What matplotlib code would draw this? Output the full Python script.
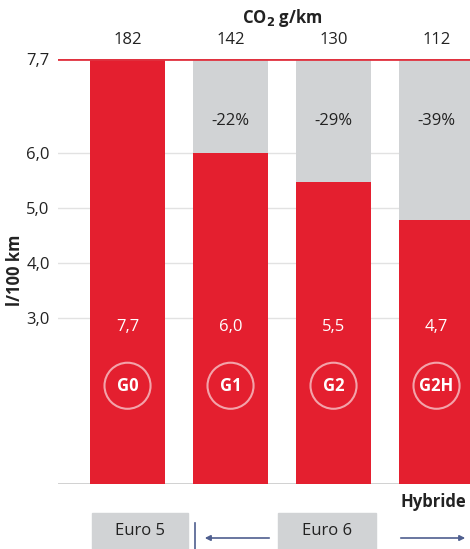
import matplotlib.pyplot as plt
from matplotlib.patches import Rectangle, FancyArrowPatch

plt.rcParams['font.family'] = ['Open Sans', 'DejaVu Sans']

# data
models = ['G0', 'G1', 'G2', 'G2H']
consumption = [7.7, 6.0, 5.47, 4.78]   # bar heights as drawn in the picture
value_labels = ['7,7', '6,0', '5,5', '4,7']
co2 = ['182', '142', '130', '112']
reduction = ['', '-22%', '-29%', '-39%']
yticks = [3.0, 4.0, 5.0, 6.0, 7.7]
ytick_labels = ['3,0', '4,0', '5,0', '6,0', '7,7']
top_value = 7.7

RED = '#e41f2f'
GREY = '#d1d3d5'
W, H = 470, 549

fig = plt.figure(figsize=(4.7, 5.49), dpi=100)
ax = fig.add_axes([58 / W, 1 - 484 / H, 1 - 58 / W, (484 - 59) / H])

x = list(range(len(models)))
bw = 0.728

for v in yticks[:-1]:
    ax.axhline(v, color='#e2e2e2', lw=1, zorder=0)
ax.axhline(0, color='#c9c9c9', lw=1.2, zorder=0)

ax.bar(x, [top_value] * len(x), width=bw, color=GREY, zorder=1)
ax.bar(x, consumption, width=bw, color=RED, zorder=2)
ax.axhline(top_value, color='#e0323f', lw=2, zorder=3)

for i in x:
    ax.text(i, 8.04, co2[i], ha='center', va='center', fontsize=12, color='#222222', clip_on=False)
    ax.text(i, 2.85, value_labels[i], ha='center', va='center', fontsize=12, color='white', zorder=4)
    ax.text(i, 1.78, models[i], ha='center', va='center', fontsize=12, color='white',
            fontweight='bold', zorder=5)
    if reduction[i]:
        ax.text(i, 6.58, reduction[i], ha='center', va='center', fontsize=12, color='#222222', zorder=4)
ax.scatter(x, [1.78] * len(x), s=1100, facecolors='none', edgecolors='#f3a3aa', linewidths=1.5, zorder=4)

ax.text(1.5, 8.44, 'CO$_\\mathbf{2}$ g/km', ha='center', va='center', fontsize=12,
        fontweight='bold', color='#222222', clip_on=False)

ax.set_xlim(-0.675, 3.325)
ax.set_ylim(0, top_value)
ax.set_yticks(yticks)
ax.set_yticklabels(ytick_labels, fontsize=12, color='#222222')
ax.tick_params(axis='y', length=0, pad=6)
ax.set_xticks([])
for s in ax.spines.values():
    s.set_visible(False)

fig.text(15 / W, 1 - 270 / H, 'l/100 km', rotation=90, ha='center', va='center',
         fontsize=12, fontweight='bold', color='#222222')

# bottom legend
fig.text(433 / W, 1 - 502 / H, 'Hybride', ha='center', va='center', fontsize=12,
         fontweight='bold', color='#222222')
for x0, x1, label in [(92, 188, 'Euro 5'), (278, 376, 'Euro 6')]:
    fig.patches.append(Rectangle((x0 / W, 0), (x1 - x0) / W, (549 - 513) / H,
                                 transform=fig.transFigure, color=GREY))
    fig.text((x0 + x1) / 2 / W, 1 - 531 / H, label, ha='center', va='center',
             fontsize=12, color='#222222')
arrow_c = '#4f5f8f'
fig.lines.append(plt.Line2D([195 / W, 195 / W], [0, 1 - 523 / H], transform=fig.transFigure,
                            color=arrow_c, lw=1.2))
fig.patches.append(FancyArrowPatch((272 / W, 1 - 538 / H), (202 / W, 1 - 538 / H),
                                   transform=fig.transFigure, arrowstyle='-|>',
                                   mutation_scale=8, color=arrow_c, lw=1.2))
fig.patches.append(FancyArrowPatch((398 / W, 1 - 538 / H), (468 / W, 1 - 538 / H),
                                   transform=fig.transFigure, arrowstyle='-|>',
                                   mutation_scale=8, color=arrow_c, lw=1.2))

fig.savefig('out.png', dpi=100)
